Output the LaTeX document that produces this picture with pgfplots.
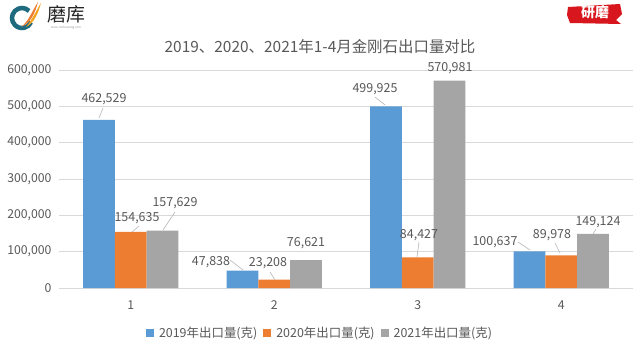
\documentclass[border=0pt]{standalone}
\usepackage{pgfplots}
\pgfplotsset{compat=1.18}
\usepackage{fontspec}
\setmainfont{Noto Sans CJK SC}
\definecolor{cblue}{HTML}{5B9BD5}
\definecolor{corange}{HTML}{ED7D31}
\definecolor{cgray}{HTML}{A5A5A5}
\definecolor{ctext}{HTML}{595959}
\definecolor{cgrid}{HTML}{D9D9D9}
\definecolor{cteal}{HTML}{1E6B80}
\definecolor{cred}{HTML}{D7161D}
\begin{document}
\begin{tikzpicture}[x=1bp,y=1bp]
\path[use as bounding box, fill=white] (0,0) rectangle (640,360);
% logos
\draw[line width=4.5bp, cteal] (22,342) ++(45:10) arc (45:335:10);
\fill[corange] (21,333) .. controls (29,339) and (32,349) .. (38,358) .. controls (35,347) and (31,337) .. (21,333);
\fill[corange!70!yellow] (26,333) .. controls (32,340) and (36,349) .. (41,357) .. controls (38,346) and (34,337) .. (26,333);
\node[text=black!85, font=\fontsize{19}{21}\selectfont] at (66,346) {磨库};
\node[text=black!40, font=\fontsize{3}{3}\selectfont] at (66,332) {www.mokuwang.com};
\fill[cred] (568,353) -- (620,356) -- (622,346) -- (616,340) -- (621,336) -- (570,337) -- (567,345) -- cycle;
\node[text=white, font=\bfseries\fontsize{14}{15}\selectfont] at (595,348) {研磨};
% title
\node[text=ctext, font=\fontsize{15.5}{17}\selectfont] at (320,313) {2019、2020、2021年1-4月金刚石出口量对比};
\begin{axis}[
  at={(59bp,72bp)}, anchor=south west, scale only axis,
  width=574bp, height=218bp,
  xmin=0.5, xmax=4.5, ymin=0, ymax=600000,
  enlargelimits=false,
  ybar=0pt, bar width=0.221,
  xtick={1,2,3,4}, xticklabels={1,2,3,4},
  ytick={0,100000,200000,300000,400000,500000,600000},
  yticklabels={0,{100,000},{200,000},{300,000},{400,000},{500,000},{600,000}},
  scaled y ticks=false,
  ymajorgrids, grid style={cgrid, line width=0.8bp},
  axis line style={draw=none},
  major tick length=0pt,
  tick label style={text=ctext, font=\fontsize{12.3}{14}\selectfont},
  xticklabel style={yshift=-9bp},
  yticklabel style={xshift=-4bp},
  legend columns=3,
  legend style={draw=none, fill=none, at={(0.4547,-0.206)}, anchor=center,
    font=\fontsize{12.5}{14}\selectfont, text=ctext,
    /tikz/every odd column/.append style={column sep=3bp},
    /tikz/every even column/.append style={column sep=4bp}},
  legend image code/.code={\fill[#1] (0bp,-4bp) rectangle (8bp,4bp);},
]
\addplot[fill=cblue, draw=none] coordinates {(1,462529) (2,47838) (3,499925) (4,100637)};
\addlegendentry{2019年出口量(克)}
\addplot[fill=corange, draw=none] coordinates {(1,154635) (2,23208) (3,84427) (4,89978)};
\addlegendentry{2020年出口量(克)}
\addplot[fill=cgray, draw=none] coordinates {(1,157629) (2,76621) (3,570981) (4,149124)};
\addlegendentry{2021年出口量(克)}
\end{axis}
% data labels
\begin{scope}[every node/.style={text=ctext, font=\fontsize{12.5}{14}\selectfont, inner sep=0pt}]
\node at (104,261) {462,529};
\node at (137,142) {154,635};
\node at (175,157) {157,629};
\node at (211,98) {47,838};
\node at (268,97) {23,208};
\node at (306,117) {76,621};
\node at (375,271) {499,925};
\node at (450,292) {570,981};
\node at (419,125) {84,427};
\node at (495,118) {100,637};
\node at (552,125) {89,978};
\node at (598,138) {149,124};
\end{scope}
\begin{scope}[draw=cgray!80, line width=0.6bp]
\draw (103,252) -- (99,242);
\draw (139,134) -- (132,128);
\draw (175,148) -- (163,130);
\draw (230,100) -- (243,90);
\draw (270,88) -- (275,80);
\draw (375,263) -- (385,255);
\draw (419,118) -- (417,103);
\draw (518,118) -- (530,110);
\draw (555,117) -- (560,107);
\draw (596,131) -- (593,126);
\end{scope}
\end{tikzpicture}
\end{document}
